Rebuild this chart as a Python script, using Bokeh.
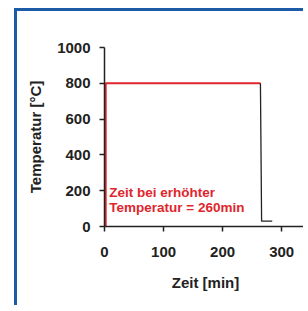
from bokeh.plotting import figure
from bokeh.models import Range1d, FixedTicker
from bokeh.core.properties import value
from bokeh.embed import file_html
from bokeh.resources import INLINE

# data
heat_time = [2, 2, 264]
heat_temp = [0, 800, 800]
cool_time = [264, 266, 284]
cool_temp = [800, 30, 30]
x_ticks = [0, 100, 200, 300]
y_ticks = [0, 200, 400, 600, 800, 1000]
note_lines = ["Zeit bei erhöhter", "Temperatur = 260min"]

RED = "#e0262d"
BLUE = "#1b5ba8"
FONT = "Liberation Sans"

p = figure(width=289, height=297, output_backend="svg", toolbar_location=None,
           x_range=Range1d(0, 342), y_range=Range1d(0, 1000),
           min_border_left=87, min_border_top=36, min_border_bottom=82, min_border_right=0)
p.styles = {"border-left": f"3px solid {BLUE}", "border-top": f"3px solid {BLUE}",
            "margin-left": "14px", "margin-top": "8px"}
p.outline_line_color = None
p.grid.visible = False
p.background_fill_color = "white"
p.border_fill_color = "white"

p.line(heat_time, heat_temp, line_color=RED, line_width=2)
p.line(cool_time, cool_temp, line_color="#222222", line_width=1.3)

p.text(x=[8, 8], y=[191, 105], text=note_lines, text_color=RED,
       text_font=value(FONT), text_font_style="bold", text_font_size="13.5px",
       text_baseline="middle", text_align="left")

for ax in (p.xaxis[0], p.yaxis[0]):
    ax.axis_line_color = "#222222"
    ax.axis_line_width = 1.5
    ax.major_tick_line_color = "#222222"
    ax.major_tick_line_width = 1.5
    ax.major_tick_out = 5
    ax.major_tick_in = 0
    ax.minor_tick_line_color = None
    ax.major_label_text_font = FONT
    ax.major_label_text_font_style = "bold"
    ax.major_label_text_font_size = "15px"
    ax.major_label_text_color = "#222222"
    ax.axis_label_text_font = FONT
    ax.axis_label_text_font_style = "bold"
    ax.axis_label_text_font_size = "15px"
    ax.axis_label_text_color = "#222222"

p.xaxis.ticker = FixedTicker(ticks=x_ticks)
p.yaxis.ticker = FixedTicker(ticks=y_ticks)
p.xaxis.axis_label = "Zeit [min]"
p.yaxis.axis_label = "Temperatur [°C]"
p.xaxis.major_label_standoff = 15
p.xaxis.axis_label_standoff = 14
p.yaxis.major_label_standoff = 9
p.yaxis.axis_label_standoff = 10

open("out.html", "w").write(file_html(p, INLINE))
